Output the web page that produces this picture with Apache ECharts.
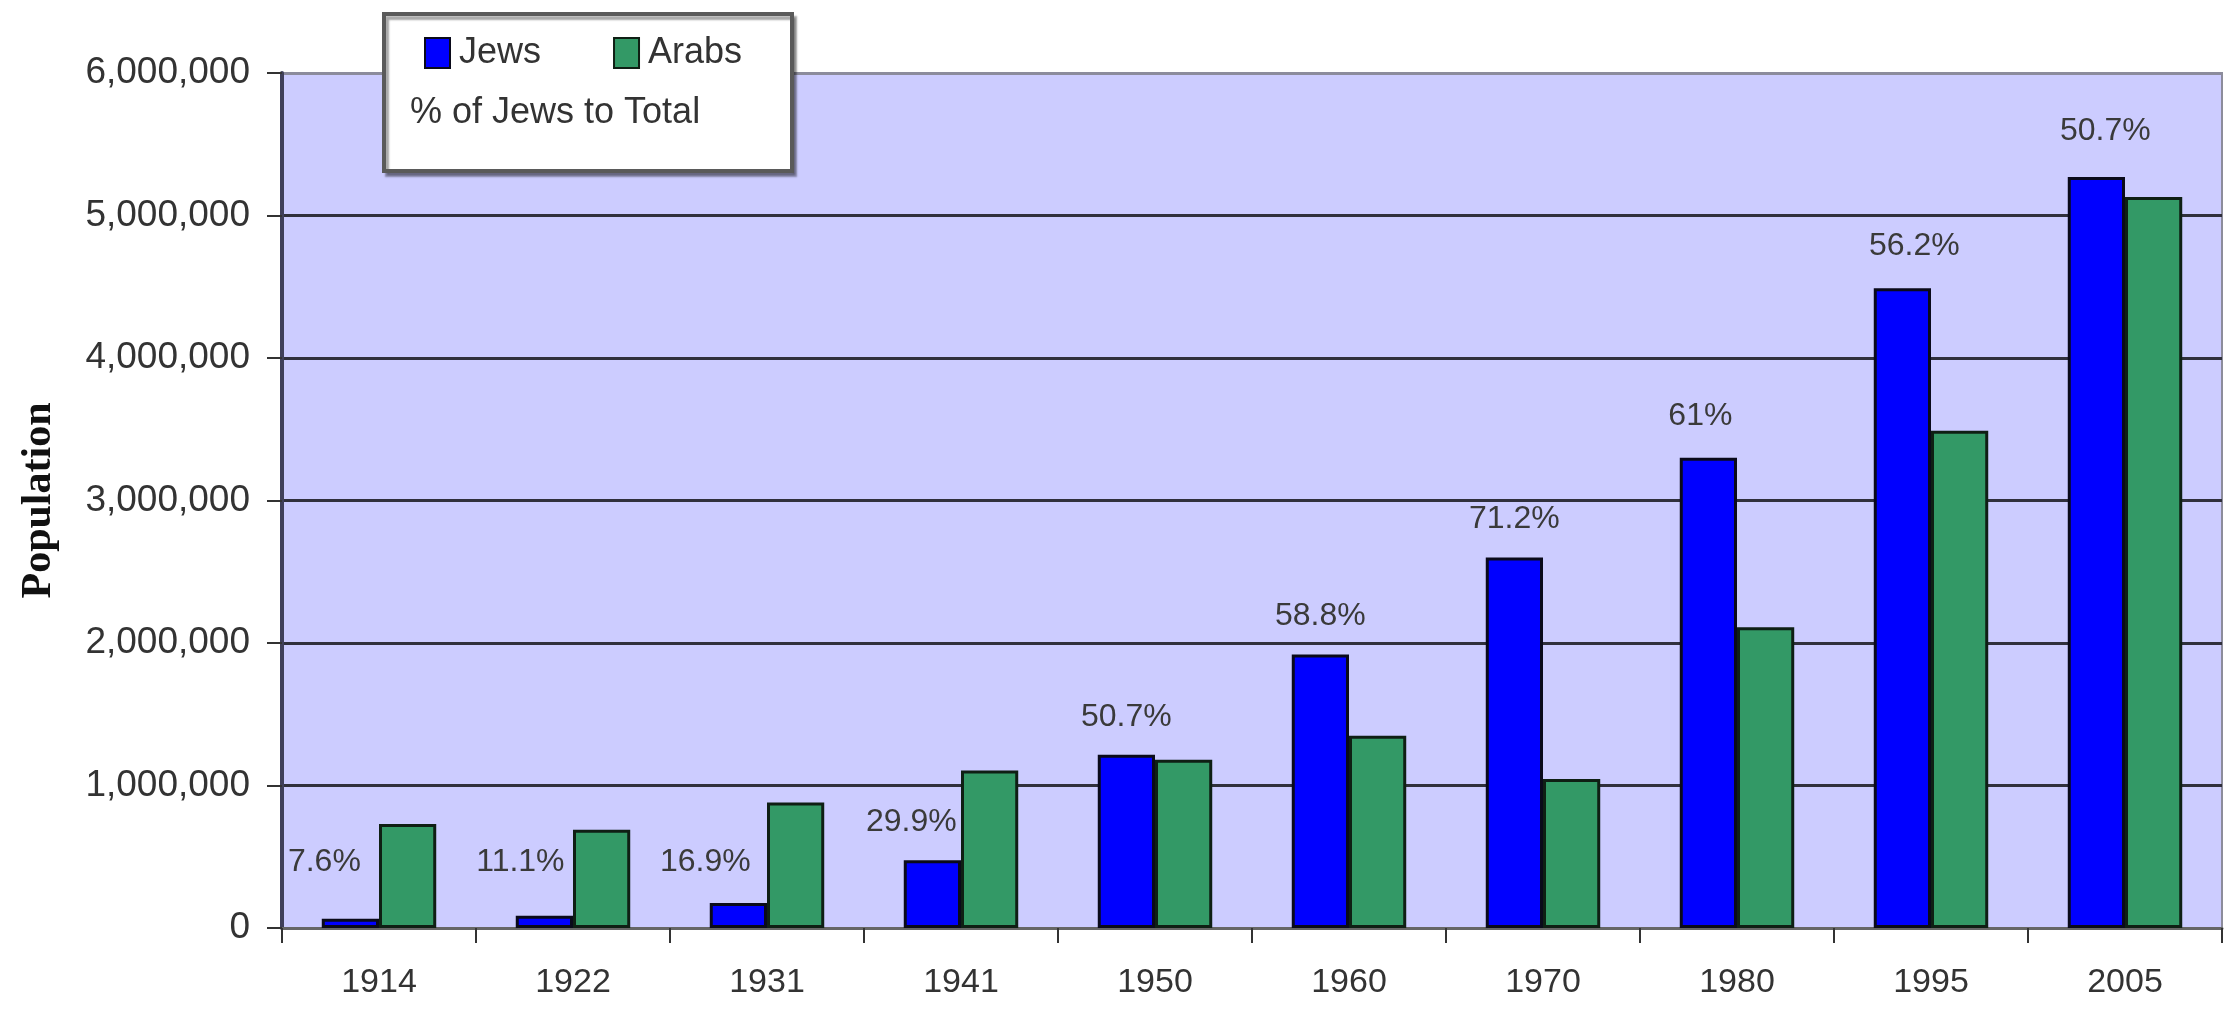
<!DOCTYPE html>
<html>
<head>
<meta charset="utf-8">
<script src="https://cdn.jsdelivr.net/npm/echarts@6/dist/echarts.min.js"></script>
<style>
  html, body { margin: 0; padding: 0; background: #fff; }
  #main { width: 2228px; height: 1009px; }
</style>
</head>
<body>
<div id="main"></div>
<script>
// data
var years = ['1914', '1922', '1931', '1941', '1950', '1960', '1970', '1980', '1995', '2005'];
var jews = [65000, 86000, 175000, 475000, 1215000, 1920000, 2600000, 3300000, 4490000, 5270000];
var arabs = [730000, 690000, 880000, 1105000, 1180000, 1350000, 1045000, 2110000, 3490000, 5130000];
var pctJews = [7.6, 11.1, 16.9, 29.9, 50.7, 58.8, 71.2, 61, 56.2, 50.7];
var yTicks = [0, 1000000, 2000000, 3000000, 4000000, 5000000, 6000000];

// the first few labels were moved by hand in the original
var labelShift = [[-26, -19], [-24, -16], [-33, -3], [-21, 0], [0, 0], [0, 0], [0, 0], [-8, -4], [12, -4], [9, -8]];

var myChart = echarts.init(document.getElementById('main'));

var jewsData = jews.map(function (v, i) {
    return { value: v, label: { offset: labelShift[i] } };
});

var option = {
    animation: false,
    backgroundColor: '#FFFFFF',
    grid: {
        left: 282,
        right: 6,
        top: 73,
        bottom: 81,
        show: true,
        backgroundColor: '#CCCCFF',
        borderColor: '#8c8c9c',
        borderWidth: 2
    },
    graphic: [{
        type: 'rect',
        left: 382,
        top: 12,
        z: 10,
        shape: { width: 408, height: 157 },
        style: {
            fill: '#FFFFFF',
            stroke: '#5a5a5a',
            lineWidth: 4,
            shadowColor: 'rgba(0,0,0,0.35)',
            shadowOffsetX: 3,
            shadowOffsetY: 4,
            shadowBlur: 2
        }
    }],
    legend: [{
        data: ['Jews', 'Arabs'],
        icon: 'rect',
        left: 419,
        top: 30,
        z: 20,
        itemWidth: 25,
        itemHeight: 30,
        itemGap: 72,
        textStyle: {
            fontFamily: 'Liberation Sans',
            fontSize: 36,
            color: '#333',
            padding: [0, 0, 0, 4]
        }
    }, {
        data: [{ name: '% of Jews to Total', icon: 'none' }],
        left: 400,
        top: 90,
        z: 20,
        itemWidth: 0,
        itemHeight: 10,
        textStyle: {
            fontFamily: 'Liberation Sans',
            fontSize: 36,
            color: '#333'
        }
    }],
    xAxis: {
        type: 'category',
        data: years,
        axisLine: { lineStyle: { color: '#666666', width: 3 } },
        axisTick: { show: true, length: 15, lineStyle: { color: '#333', width: 2 } },
        axisLabel: {
            margin: 38,
            fontFamily: 'Liberation Sans',
            fontSize: 34,
            color: '#333'
        }
    },
    yAxis: {
        type: 'value',
        min: yTicks[0],
        max: yTicks[yTicks.length - 1],
        interval: yTicks[1] - yTicks[0],
        name: 'Population',
        nameLocation: 'middle',
        nameRotate: 90,
        nameGap: 222,
        nameTextStyle: {
            fontFamily: 'Liberation Serif',
            fontWeight: 'bold',
            fontSize: 42,
            color: '#111'
        },
        axisLine: { show: true, lineStyle: { color: '#40405a', width: 4 } },
        axisTick: { show: true, length: 15, lineStyle: { color: '#333', width: 2 } },
        axisLabel: {
            margin: 32,
            fontFamily: 'Liberation Sans',
            fontSize: 37,
            color: '#333',
            formatter: function (v) {
                return v.toLocaleString('en-US');
            }
        },
        splitLine: {
            show: true,
            lineStyle: {
                color: ['#30303c', '#30303c', '#30303c', '#30303c', '#30303c', '#30303c', '#8c8c9c'],
                width: 3
            }
        }
    },
    series: [{
        name: 'Jews',
        type: 'bar',
        data: jewsData,
        barGap: '0%',
        barCategoryGap: '41%',
        itemStyle: {
            color: '#0000FF',
            borderColor: '#0a0a1a',
            borderWidth: 3
        },
        label: {
            show: true,
            position: 'top',
            distance: 22,
            fontFamily: 'Liberation Sans',
            fontSize: 32,
            color: '#3a3a3a',
            formatter: function (p) {
                return pctJews[p.dataIndex] + '%';
            }
        }
    }, {
        name: 'Arabs',
        type: 'bar',
        data: arabs,
        itemStyle: {
            color: '#339966',
            borderColor: '#0f1f14',
            borderWidth: 3
        }
    }, {
        name: '% of Jews to Total',
        type: 'line',
        data: [],
        symbol: 'none'
    }]
};
myChart.setOption(option);
</script>
</body>
</html>
